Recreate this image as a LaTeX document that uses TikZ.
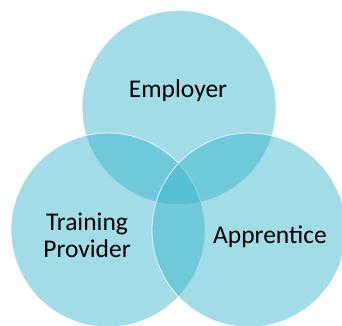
\documentclass[tikz,border=0pt]{standalone}
\usepackage{fontspec}
\setmainfont{Carlito}
\definecolor{venn}{RGB}{53,179,203}
\begin{document}
\begin{tikzpicture}[x=1pt,y=-1pt,
  setc/.style={circle,minimum size=194pt,inner sep=0pt,fill=venn,fill opacity=0.46,draw=white,draw opacity=0.8,line width=0.8pt},
  lbl/.style={font=\fontsize{25.5}{27}\selectfont,text=black,align=center,inner sep=0pt}]
\useasboundingbox (0,0) rectangle (342,325);
\node[setc] (emp) at (179,107.5) {};
\node[setc] (tp) at (108,230) {};
\node[setc] (app) at (249,230) {};
\node[lbl,anchor=base] (lemp) at (178,97) {Employer};
\node[lbl,anchor=base] (ltp) at (87,257) {Training\\Provider};
\node[lbl,anchor=base] (lapp) at (270,243) {Apprentice};
\end{tikzpicture}
\end{document}
